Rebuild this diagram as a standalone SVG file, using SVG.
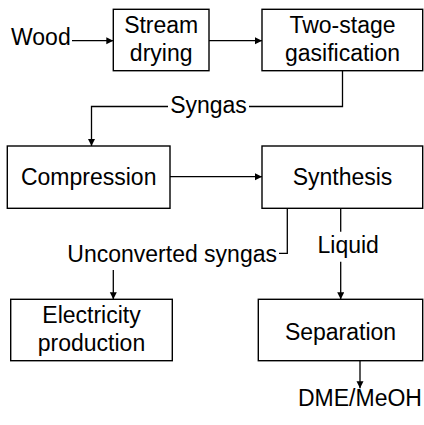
<svg xmlns="http://www.w3.org/2000/svg" width="424" height="425" viewBox="0 0 424 425">
<style>
.box{fill:#fff;stroke:#000;stroke-width:1.4}
.t{font-family:"Liberation Sans",Arial,sans-serif;font-size:23px;fill:#000}
.c{text-anchor:middle}
.ln{fill:none;stroke:#000;stroke-width:1.3}
</style>
<defs>
<marker id="ah" markerUnits="userSpaceOnUse" markerWidth="8" markerHeight="8" refX="7" refY="3.5" orient="auto">
<path d="M0,0 L7,3.5 L0,7 z" fill="#000"/>
</marker>
</defs>
<g id="connectors">
<path class="ln" d="M72,40.7 H113.3" marker-end="url(#ah)"/>
<path class="ln" d="M209,40.7 H262" marker-end="url(#ah)"/>
<path class="ln" d="M342.5,70.7 V106.5 H249"/>
<path class="ln" d="M168,106.5 H91.5 V146" marker-end="url(#ah)"/>
<path class="ln" d="M170,176.7 H262" marker-end="url(#ah)"/>
<path class="ln" d="M287.3,208.3 V253.3 H279"/>
<path class="ln" d="M113.3,270 V299.3" marker-end="url(#ah)"/>
<path class="ln" d="M340.7,208.3 V231.7"/>
<path class="ln" d="M340.7,261.7 V299.3" marker-end="url(#ah)"/>
<path class="ln" d="M360,360.7 V388.3" marker-end="url(#ah)"/>
<text class="t" x="208.5" y="112.7" text-anchor="middle">Syngas</text>
<text class="t" x="277" y="261.7" text-anchor="end">Unconverted syngas</text>
<text class="t" x="317.5" y="253.3">Liquid</text>
</g>
<g id="wood"><text class="t" x="11" y="45">Wood</text></g>
<g id="stream-drying">
<rect class="box" x="113.3" y="9.3" width="95.7" height="61.4"/>
<text class="t c" x="161.2" y="33.3">Stream</text>
<text class="t c" x="161.2" y="61">drying</text>
</g>
<g id="gasification">
<rect class="box" x="262" y="9.3" width="160.7" height="61.4"/>
<text class="t c" x="342.5" y="33.3">Two-stage</text>
<text class="t c" x="342.5" y="61">gasification</text>
</g>
<g id="compression">
<rect class="box" x="7.3" y="146" width="162.7" height="62.3"/>
<text class="t c" x="88.7" y="185">Compression</text>
</g>
<g id="synthesis">
<rect class="box" x="262" y="146" width="160.7" height="62.3"/>
<text class="t c" x="342.5" y="185">Synthesis</text>
</g>
<g id="electricity">
<rect class="box" x="10.7" y="299.3" width="161.6" height="61.4"/>
<text class="t c" x="91.5" y="323.3">Electricity</text>
<text class="t c" x="91.5" y="350.7">production</text>
</g>
<g id="separation">
<rect class="box" x="258.3" y="299.3" width="164.4" height="61.4"/>
<text class="t c" x="340.5" y="339.5">Separation</text>
</g>
<g id="product"><text class="t" x="298" y="406">DME/MeOH</text></g>
</svg>
